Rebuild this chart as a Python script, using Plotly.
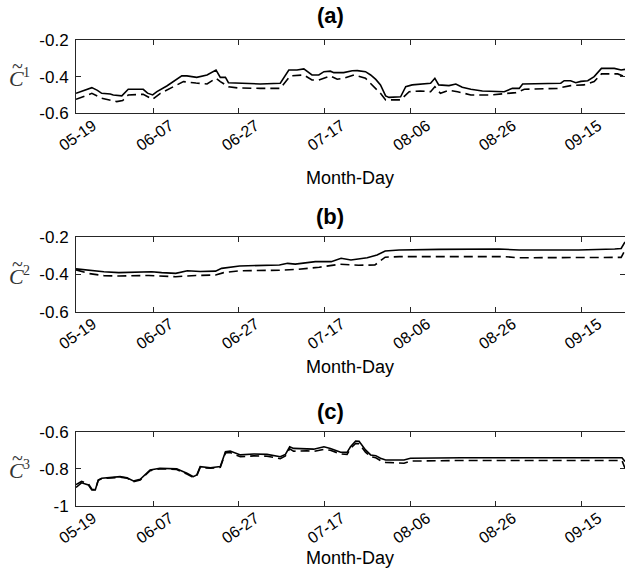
import plotly.graph_objects as go

# ---- data (x = day index from 05-19) ----
tick_vals = [0, 18, 38, 58, 78, 98, 118]
tick_text = ["05-19", "06-07", "06-27", "07-17", "08-06", "08-26", "09-15"]

a_solid_x = [0, 2, 3.7, 5, 6, 8, 8.7, 10.7, 12.2, 15.7, 16.7, 17.9, 18.9, 21.2, 23, 24.7, 25.9, 28.2, 30.6, 32.7,
             33.7, 34.9, 35.6, 39.1, 43, 47.7, 49.7, 51.6, 53.2, 55.1, 56.7, 57.9, 59.4, 60.2, 62.5, 64.5, 65.7,
             67.6, 68.8, 70, 71.1, 72.3, 73.1, 75.8, 77, 78.5, 82.8, 83.8, 84.7, 87.1, 88.7, 90.2, 92.2, 94.9,
             97.6, 100, 101.9, 103.5, 104.3, 109.3, 113.2, 114, 115.5, 116.7, 117.9, 119.5, 121, 122.7, 125.7,
             127.3, 128.2]
a_solid_y = [-0.491, -0.475, -0.46, -0.475, -0.491, -0.495, -0.5, -0.505, -0.469, -0.469, -0.49, -0.5, -0.482,
             -0.451, -0.425, -0.396, -0.396, -0.404, -0.391, -0.364, -0.404, -0.404, -0.433, -0.436, -0.44,
             -0.436, -0.364, -0.364, -0.358, -0.391, -0.391, -0.373, -0.37, -0.378, -0.378, -0.368, -0.367,
             -0.373, -0.391, -0.415, -0.445, -0.505, -0.513, -0.51, -0.455, -0.445, -0.436, -0.409, -0.445,
             -0.449, -0.44, -0.458, -0.469, -0.478, -0.482, -0.482, -0.464, -0.464, -0.44, -0.44, -0.436,
             -0.422, -0.422, -0.433, -0.426, -0.422, -0.4, -0.355, -0.355, -0.364, -0.36]
a_dash_x = [0, 1.5, 3.7, 6, 8, 9.5, 10.9, 12.2, 15.7, 16.7, 17.9, 19.7, 22, 25.1, 28, 30.6, 32.7, 33.7, 35.6,
            38, 43, 47.7, 50, 53.2, 55.1, 56.7, 59.4, 61, 62.5, 64.9, 67.6, 69, 71.1, 72.3, 75.8, 77.8, 80.4,
            82.8, 83.8, 85.1, 87.1, 89.1, 92.2, 96.8, 100, 102.7, 104.7, 112.4, 115.5, 118.6, 121, 122.7,
            126.5, 128.2]
a_dash_y = [-0.524, -0.51, -0.491, -0.518, -0.53, -0.536, -0.53, -0.5, -0.496, -0.51, -0.524, -0.491, -0.462,
            -0.427, -0.435, -0.44, -0.409, -0.427, -0.455, -0.462, -0.464, -0.464, -0.396, -0.391, -0.418,
            -0.418, -0.396, -0.414, -0.409, -0.391, -0.409, -0.44, -0.491, -0.527, -0.527, -0.482, -0.478,
            -0.482, -0.455, -0.491, -0.475, -0.482, -0.5, -0.5, -0.491, -0.487, -0.469, -0.464, -0.449,
            -0.445, -0.427, -0.385, -0.385, -0.4]

b_solid_x = [0, 3, 6.5, 10, 14, 17.7, 20, 23.3, 26, 29, 32.6, 34, 38.2, 43, 47.5, 49.4, 51.2, 55.9, 59.6,
             61.9, 64.2, 68, 70.3, 72.2, 75.5, 84.8, 98.8, 103.5, 117.4, 125.8, 127.3, 128.2]
b_solid_y = [-0.37, -0.378, -0.385, -0.39, -0.388, -0.385, -0.39, -0.394, -0.38, -0.384, -0.382, -0.367,
             -0.354, -0.352, -0.349, -0.34, -0.344, -0.331, -0.331, -0.313, -0.322, -0.31, -0.295, -0.274,
             -0.268, -0.265, -0.263, -0.268, -0.268, -0.263, -0.26, -0.225]
b_dash_x = [0, 3, 6.5, 10, 17, 23.3, 28, 32.6, 34.5, 38.2, 47.5, 52, 56.8, 61.5, 66, 69.8, 72.2, 75.5, 100,
            103.5, 127.3, 128.2]
b_dash_y = [-0.375, -0.395, -0.406, -0.408, -0.405, -0.412, -0.405, -0.403, -0.39, -0.38, -0.377, -0.372,
            -0.361, -0.345, -0.35, -0.349, -0.307, -0.304, -0.304, -0.31, -0.308, -0.27]

c_x = [0, 1.3, 2.9, 3.7, 4.5, 5.2, 6, 10.3, 11.9, 13.4, 15, 17.3, 19.6, 23.5, 25.9, 27.4, 28.2, 29, 31.4,
       33.7, 34.9, 36, 38.4, 41.5, 44.6, 47.7, 48.9, 49.9, 50.8, 53.9, 55.5, 57.9, 59.4, 61.8, 63.3, 64.1,
       65.3, 66.1, 67.6, 68.8, 70, 71.1, 72.3, 76.6, 78.1, 90, 127.5, 128.2]
c_solid_y = [-0.9, -0.875, -0.887, -0.914, -0.914, -0.86, -0.851, -0.842, -0.848, -0.865, -0.856, -0.806,
             -0.797, -0.8, -0.824, -0.842, -0.833, -0.788, -0.794, -0.788, -0.708, -0.704, -0.725, -0.72,
             -0.722, -0.735, -0.722, -0.681, -0.69, -0.69, -0.694, -0.681, -0.69, -0.711, -0.711, -0.681,
             -0.65, -0.652, -0.698, -0.725, -0.729, -0.743, -0.752, -0.752, -0.743, -0.74, -0.74, -0.76]
c_dash_y = [-0.885, -0.868, -0.88, -0.91, -0.912, -0.862, -0.853, -0.845, -0.85, -0.87, -0.86, -0.81, -0.8,
            -0.803, -0.828, -0.846, -0.838, -0.792, -0.797, -0.792, -0.714, -0.712, -0.735, -0.73, -0.732,
            -0.745, -0.73, -0.692, -0.705, -0.703, -0.706, -0.695, -0.7, -0.72, -0.722, -0.69, -0.663,
            -0.665, -0.71, -0.735, -0.74, -0.755, -0.765, -0.77, -0.758, -0.755, -0.755, -0.797]

panels = [
    ("(a)", "1", a_solid_x, a_solid_y, a_dash_x, a_dash_y, [-0.6, -0.2], [-0.6, -0.4, -0.2], ["-0.6", "-0.4", "-0.2"]),
    ("(b)", "2", b_solid_x, b_solid_y, b_dash_x, b_dash_y, [-0.6, -0.2], [-0.6, -0.4, -0.2], ["-0.6", "-0.4", "-0.2"]),
    ("(c)", "3", c_x, c_solid_y, c_x, c_dash_y, [-1.0, -0.6], [-1.0, -0.8, -0.6], ["-1", "-0.8", "-0.6"]),
]

W, H = 625, 571
tops = [40, 237.3, 431.7]
bots = [113.3, 311.7, 506]
title_y = [15, 216.7, 411.7]
xlab_y = [178, 367, 558]
left_px = 76

fig = go.Figure()
layout = dict(width=W, height=H, margin=dict(l=0, r=0, t=0, b=0), showlegend=False,
              paper_bgcolor="white", plot_bgcolor="white",
              font=dict(family="Liberation Sans, Arial, sans-serif", color="#000000"))
annotations = []
axcol = "#262626"
serif = "Liberation Serif, DejaVu Serif, serif"
for i, (ttl, lab, sx, sy, dx, dy, yr, yv, yt) in enumerate(panels):
    suf = "" if i == 0 else str(i + 1)
    xa, ya = "x" + suf, "y" + suf
    fig.add_trace(go.Scatter(x=sx, y=sy, mode="lines", xaxis=xa, yaxis=ya,
                             line=dict(color="black", width=1.6)))
    fig.add_trace(go.Scatter(x=dx, y=dy, mode="lines", xaxis=xa, yaxis=ya,
                             line=dict(color="black", width=1.6, dash="9px,5px")))
    dom_y = [1 - bots[i] / H, 1 - tops[i] / H]
    layout["xaxis" + suf] = dict(domain=[left_px / W, 1], range=[0, 128.2], anchor=ya,
                                 tickmode="array", tickvals=tick_vals, ticktext=tick_text,
                                 tickangle=-35, ticks="inside", ticklen=5, tickcolor=axcol,
                                 showline=True, linecolor=axcol, linewidth=1, mirror="ticks",
                                 showgrid=False, zeroline=False, automargin=False,
                                 tickfont=dict(size=16, color="#000000"),
                                 ticklabelshift=17, ticklabelstandoff=-4)
    layout["yaxis" + suf] = dict(domain=dom_y, range=yr, anchor=xa,
                                 tickmode="array", tickvals=yv, ticktext=yt,
                                 ticks="inside", ticklen=5, tickcolor=axcol,
                                 showline=True, linecolor=axcol, linewidth=1, mirror="ticks",
                                 showgrid=False, zeroline=False, automargin=False,
                                 tickfont=dict(size=17, color="#000000"), ticklabelstandoff=3)
    annotations.append(dict(text="<b>" + ttl + "</b>", x=330 / W, y=1 - title_y[i] / H, xref="paper",
                            yref="paper", showarrow=False, xanchor="center", yanchor="middle",
                            font=dict(size=22, color="#000000")))
    annotations.append(dict(text="Month-Day", x=350 / W, y=1 - xlab_y[i] / H, xref="paper",
                            yref="paper", showarrow=False, xanchor="center", yanchor="middle",
                            font=dict(size=18, color="#000000")))
    ymid = (tops[i] + bots[i]) / 2
    annotations.append(dict(text="<i>C</i>", x=16 / W, y=1 - (ymid + 2) / H,
                            xref="paper", yref="paper", showarrow=False, xanchor="center",
                            yanchor="middle", font=dict(size=22, family=serif, color="#333333")))
    annotations.append(dict(text=lab, x=26 / W, y=1 - (ymid - 4) / H,
                            xref="paper", yref="paper", showarrow=False, xanchor="center",
                            yanchor="middle", font=dict(size=14, family=serif, color="#333333")))
    annotations.append(dict(text="~", x=17 / W, y=1 - (ymid - 11) / H,
                            xref="paper", yref="paper", showarrow=False, xanchor="center",
                            yanchor="middle", font=dict(size=20, family=serif, color="#333333")))
layout["annotations"] = annotations
fig.update_layout(**layout)
fig.write_html("out.html")
